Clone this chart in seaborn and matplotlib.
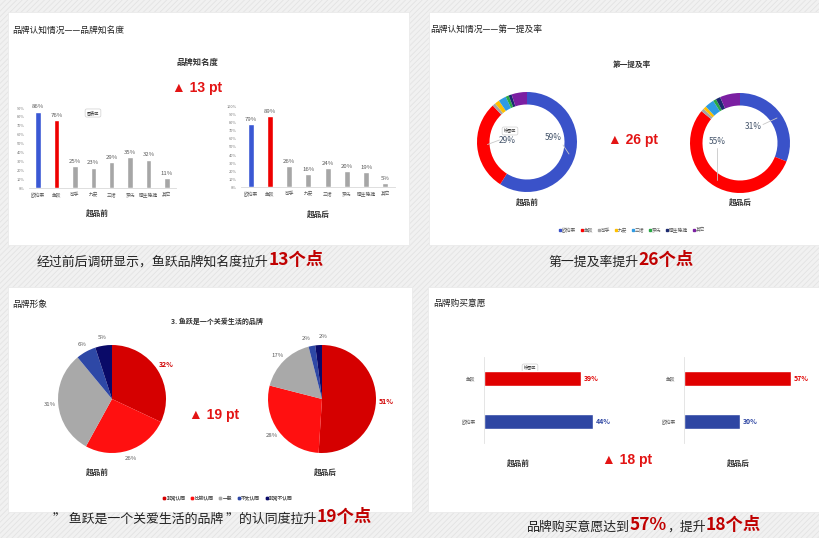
import numpy as np
import pandas as pd
import matplotlib
matplotlib.use('Agg')
import matplotlib.pyplot as plt
from matplotlib.patches import Rectangle
from matplotlib.lines import Line2D
import seaborn as sns

sns.set_theme(style='white')
plt.rcParams['font.family'] = ['Noto Sans CJK SC', 'DejaVu Sans']
plt.rcParams['axes.unicode_minus'] = False
plt.rcParams['hatch.linewidth'] = 0.6

# ---------------- data ----------------
brands = ['欧珀莱', '鱼跃', '可孚', '九安', '三诺', '罗氏', '强生稳捷', '其它']
aware_before = [86, 76, 25, 23, 29, 35, 32, 11]
aware_after = [79, 89, 26, 16, 24, 20, 19, 5]
first_before = [59, 29, 1, 1.5, 2.5, 1, 1, 5]
first_after = [31, 55, 1, 1, 3, 1, 1.5, 6.5]
first_before_labels = ['59%', '29%']
first_after_labels = ['31%', '55%']
agree_levels = ['非常认同', '比较认同', '一般', '不太认同', '非常不认同']
agree_before = [32, 26, 31, 6, 5]
agree_after = [51, 28, 17, 2, 2]
buy_brands = ['鱼跃', '欧珀莱']
buy_before = [39, 44]
buy_after = [57, 30]

# ---------------- style ----------------
BLUE = '#3a58d4'
RED = '#ee0000'
GRAY = '#a6a6a6'
DARKRED = '#c00000'
TXT = '#595959'
brand_colors = [BLUE, RED, GRAY, GRAY, GRAY, GRAY, GRAY, GRAY]
donut_colors = ['#3a52c9', '#ff0000', '#a5a5a5', '#ffc000', '#2f9be3', '#2aa845', '#1b2a70', '#7b1fa2']
pie_colors = ['#d50000', '#ff1010', '#a9a9a9', '#2e48a6', '#0a0a68']
buy_colors = ['#e00000', '#2e46a3']

W, H = 819, 538
fig = plt.figure(figsize=(W / 100, H / 100), dpi=100)
fig.patch.set_facecolor('#f1f1f1')

bg = fig.add_axes([0, 0, 1, 1], zorder=0)
bg.set_xlim(0, W)
bg.set_ylim(H, 0)
bg.axis('off')
bg.add_patch(Rectangle((0, 0), W, H, facecolor='#f1f1f1', edgecolor='#e3e3e3',
                       hatch='//////', linewidth=0))
for (x0, y0, x1, y1) in [(8, 12, 409, 245), (429, 12, 819, 245),
                         (8, 287, 412, 512), (428, 287, 819, 512)]:
    bg.add_patch(Rectangle((x0, y0), x1 - x0, y1 - y0, facecolor='white',
                           edgecolor='#e8e8e8', linewidth=0.5))


def ax_at(x0, y0, x1, y1):
    a = fig.add_axes([x0 / W, 1 - y1 / H, (x1 - x0) / W, (y1 - y0) / H], zorder=2)
    a.patch.set_alpha(0)
    return a


def caption(x, y, parts):
    prev = None
    for txt, red in parts:
        kw = dict(fontsize=12.5 if red else 9.3, color=DARKRED if red else '#222222',
                  fontweight='bold' if red else 'normal', va='bottom', ha='left')
        if prev is None:
            prev = bg.text(x, y, txt, **kw)
        else:
            prev = bg.annotate(txt, xy=(1, 0), xycoords=prev, **kw)


def tip(x, y, s):
    bg.text(x, y, s, fontsize=3, ha='center', va='center', color='#333333', zorder=5,
            bbox=dict(boxstyle='round,pad=0.4', fc='white', ec='#cfcfcf', lw=0.5))


def pt_text(x, y, s):
    bg.text(x, y, '▲ ' + s, fontsize=10, color='#e31414', fontweight='bold',
            ha='center', va='center', family=['Liberation Sans', 'DejaVu Sans'])


# ---------------- panel 1: awareness bars ----------------
bg.text(12, 30, '品牌认知情况——品牌知名度', fontsize=6.3, color='#222222', va='center')
bg.text(197, 62, '品牌知名度', fontsize=6, fontweight='bold', color='#333333', ha='center', va='center')
pt_text(197, 88, '13 pt')


def vbar(ax, vals, ymax):
    df = pd.DataFrame({'brand': brands, 'v': vals})
    sns.barplot(data=df, x='brand', y='v', hue='brand', palette=brand_colors,
                legend=False, width=0.3, ax=ax, saturation=1)
    for c in ax.containers:
        ax.bar_label(c, fmt='%d%%', fontsize=4.3, color=TXT, padding=1.5)
    ax.set_ylim(0, ymax)
    ax.set_yticks(range(0, ymax + 1, 10))
    ax.set_yticklabels([f'{t}%' for t in range(0, ymax + 1, 10)])
    ax.tick_params(axis='y', labelsize=2.8, labelcolor='#777777', length=0, pad=3)
    ax.tick_params(axis='x', labelsize=3.4, labelcolor=TXT, length=0, pad=3)
    ax.set_xlabel('')
    ax.set_ylabel('')
    for s in ['top', 'right', 'left']:
        ax.spines[s].set_visible(False)
    ax.spines['bottom'].set_color('#d9d9d9')
    ax.spines['bottom'].set_linewidth(0.6)


ax1 = ax_at(29, 108, 176, 188)
vbar(ax1, aware_before, 90)
ax2 = ax_at(241, 107, 395, 187)
vbar(ax2, aware_after, 100)
bg.text(97, 213, '超品前', fontsize=5.5, color='#333333', ha='center', va='center', fontweight='bold')
bg.text(318, 214, '超品后', fontsize=5.5, color='#333333', ha='center', va='center', fontweight='bold')
tip(93, 113, '图表区')
caption(37, 269, [('经过前后调研显示，鱼跃品牌知名度拉升', False), ('13个点', True)])

# ---------------- panel 2: first mention donuts ----------------
bg.text(430, 29, '品牌认知情况——第一提及率', fontsize=6.3, color='#222222', va='center')
bg.text(632, 64, '第一提及率', fontsize=5.5, fontweight='bold', color='#333333', ha='center', va='center')
pt_text(633, 140, '26 pt')


def donut(ax, vals, labels, lab_pos, lines):
    ax.pie(vals, colors=donut_colors, startangle=90, counterclock=False, radius=1,
           wedgeprops=dict(width=0.25, linewidth=0))
    ax.set_xlim(-1, 1)
    ax.set_ylim(-1, 1)
    ax.set_aspect('equal')
    for s, (x, y) in zip(labels, lab_pos):
        ax.text(x, y, s, fontsize=6, color='#44546a', ha='center', va='center')
    for (xa, ya, xb, yb) in lines:
        ax.plot([xa, xb], [ya, yb], color='#c8c8c8', lw=0.6)


ax3 = ax_at(477, 92, 577, 192)
donut(ax3, first_before, first_before_labels, [(0.52, 0.08), (-0.4, 0.03)],
      [(0.72, -0.06, 0.84, -0.24), (-0.79, -0.05, -0.55, 0.04)])
ax4 = ax_at(690, 93, 790, 193)
donut(ax4, first_after, first_after_labels, [(0.26, 0.33), (-0.45, 0.02)],
      [(0.46, 0.37, 0.74, 0.5), (-0.47, -0.1, -0.47, -0.75)])
bg.text(527, 202, '超品前', fontsize=5.5, color='#333333', ha='center', va='center', fontweight='bold')
bg.text(740, 202, '超品后', fontsize=5.5, color='#333333', ha='center', va='center', fontweight='bold')
tip(510, 131, '绘图区')
h1 = [Line2D([], [], marker='s', ls='', color=c, markersize=1.8) for c in donut_colors]
leg1 = bg.legend(h1, brands, loc='center', bbox_to_anchor=(632, 230), bbox_transform=bg.transData,
                 ncol=8, fontsize=3.4, frameon=False, handlelength=0.5, handletextpad=0.2,
                 columnspacing=0.9, labelcolor=TXT)
bg.add_artist(leg1)
caption(548, 269, [('第一提及率提升', False), ('26个点', True)])

# ---------------- panel 3: agreement pies ----------------
bg.text(12, 304, '品牌形象', fontsize=6.3, color='#222222', va='center')
bg.text(217, 321, '3. 鱼跃是一个关爱生活的品牌', fontsize=5, fontweight='bold', color='#333333',
        ha='center', va='center')
pt_text(214, 415, '19 pt')


def pie(ax, vals, nudges):
    wedges, _ = ax.pie(vals, colors=pie_colors, startangle=90, counterclock=False, radius=1,
                       wedgeprops=dict(linewidth=0))
    ax.set_xlim(-1, 1)
    ax.set_ylim(-1, 1)
    ax.set_aspect('equal')
    for i, (w, v, dn) in enumerate(zip(wedges, vals, nudges)):
        ang = np.deg2rad((w.theta1 + w.theta2) / 2 + dn)
        if i == 0:
            ax.text(1.19 * np.cos(ang), 1.19 * np.sin(ang), f'{v}%', fontsize=5, color='#d00000',
                    fontweight='bold', ha='center', va='center')
        else:
            ax.text(1.15 * np.cos(ang), 1.15 * np.sin(ang), f'{v}%', fontsize=4.3, color=TXT,
                    ha='center', va='center')


ax5 = ax_at(58, 345, 166, 453)
pie(ax5, agree_before, [0, 0, 0, 0, 0])
ax6 = ax_at(268, 345, 376, 453)
pie(ax6, agree_after, [0, 0, 0, 4, -5])
bg.text(97, 472, '超品前', fontsize=5.5, color='#333333', ha='center', va='center', fontweight='bold')
bg.text(325, 472, '超品后', fontsize=5.5, color='#333333', ha='center', va='center', fontweight='bold')
h2 = [Line2D([], [], marker='s', ls='', color=c, markersize=1.8) for c in pie_colors]
leg2 = bg.legend(h2, agree_levels, loc='center', bbox_to_anchor=(228, 498), bbox_transform=bg.transData,
                 ncol=5, fontsize=3.4, frameon=False, handlelength=0.5, handletextpad=0.2,
                 columnspacing=1.2, labelcolor=TXT)
bg.add_artist(leg2)
caption(53, 526, [('” 鱼跃是一个关爱生活的品牌 ”的认同度拉升', False), ('19个点', True)])

# ---------------- panel 4: purchase intention ----------------
bg.text(433, 303, '品牌购买意愿', fontsize=6.3, color='#222222', va='center')
pt_text(627, 460, '18 pt')


def hbar(ax, vals, xmax):
    df = pd.DataFrame({'brand': buy_brands, 'v': vals})
    sns.barplot(data=df, x='v', y='brand', hue='brand', palette=buy_colors, orient='h',
                legend=False, width=0.37, ax=ax, saturation=1)
    for c, col in zip(ax.containers, buy_colors):
        ax.bar_label(c, fmt='%d%%', fontsize=5, color=col, fontweight='bold', padding=2)
    ax.set_xlim(0, xmax)
    ax.set_xticks([])
    ax.set_xlabel('')
    ax.set_ylabel('')
    ax.tick_params(axis='y', labelsize=3.4, labelcolor=TXT, length=0, pad=6)
    for s in ['top', 'right', 'bottom']:
        ax.spines[s].set_visible(False)
    ax.spines['left'].set_color('#e0e0e0')
    ax.spines['left'].set_linewidth(0.6)


ax7 = ax_at(484, 357, 633, 443)
hbar(ax7, buy_before, 60)
ax8 = ax_at(684, 357, 815, 443)
hbar(ax8, buy_after, 70)
bg.text(518, 463, '超品前', fontsize=5.5, color='#333333', ha='center', va='center', fontweight='bold')
bg.text(738, 463, '超品后', fontsize=5.5, color='#333333', ha='center', va='center', fontweight='bold')
tip(530, 368, '绘图区')
caption(527, 534, [('品牌购买意愿达到', False), ('57%', True), ('，提升', False), ('18个点', True)])

fig.savefig('out.png', dpi=100, facecolor=fig.get_facecolor())
